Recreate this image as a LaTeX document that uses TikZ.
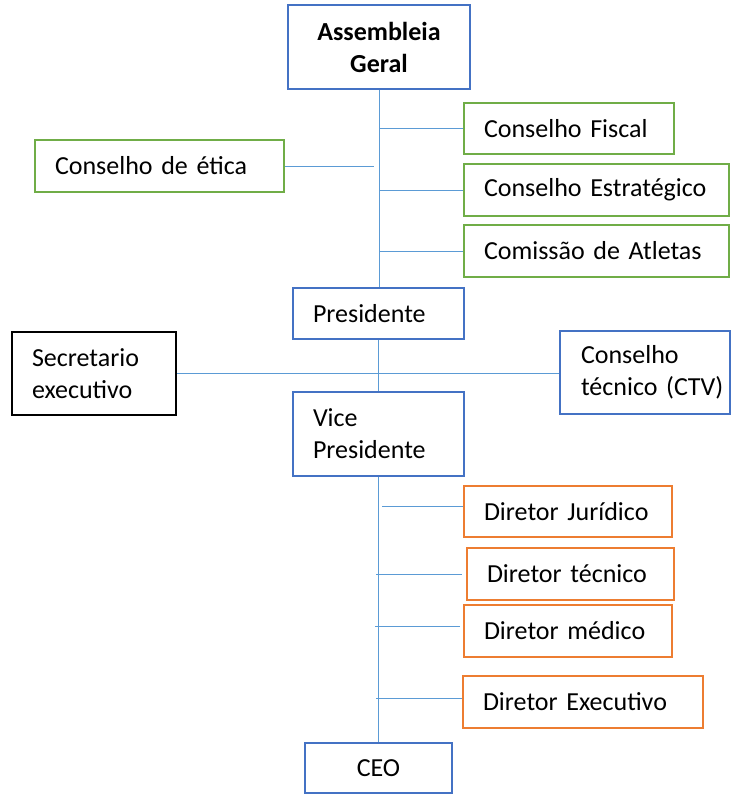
\documentclass[tikz,border=0pt]{standalone}
\usepackage{fontspec}
\setmainfont{Carlito}
\definecolor{bblue}{HTML}{4472C4}
\definecolor{bgreen}{HTML}{70AD47}
\definecolor{borange}{HTML}{ED7D31}
\definecolor{lblue}{HTML}{5B9BD5}
\begin{document}
\begin{tikzpicture}[x=1pt,y=-1pt,
  box/.style={draw, line width=2pt, inner ysep=0pt, anchor=center,
    font=\fontsize{26}{32}\selectfont},
  lbox/.style={box, inner xsep=20pt, align=left},
  cbox/.style={box, inner xsep=0pt, align=center},
  blueb/.style={draw=bblue},
  greenb/.style={draw=bgreen},
  orangeb/.style={draw=borange},
  blackb/.style={draw=black},
  conn/.style={draw=lblue, line width=1pt}]
\useasboundingbox (0,0) rectangle (732,796);

% main chain
\node[cbox, blueb, minimum width=182pt, minimum height=84pt, font=\fontsize{26}{32}\selectfont\bfseries] (ag) at (379,47) {Assembleia\\Geral};
\node[lbox, blueb, text width=131pt, minimum height=51pt] (pres) at (378.5,313.5) {Presidente};
\node[lbox, blueb, text width=131pt, minimum height=84pt] (vp) at (378.5,434) {Vice\\Presidente};
\node[cbox, blueb, minimum width=147pt, minimum height=50pt] (ceo) at (378.5,768) {CEO};

% councils
\node[lbox, greenb, text width=170pt, minimum height=51pt] (cf) at (569,128.5) {Conselho Fiscal};
\node[lbox, greenb, text width=225pt, minimum height=52pt] (cs) at (596.5,190) {Conselho Estratégico};
\node[lbox, greenb, text width=225pt, minimum height=52pt] (ca) at (596.5,251) {Comissão de Atletas};
\node[lbox, greenb, text width=209pt, minimum height=52pt] (cet) at (159.5,166) {Conselho de ética};

% side nodes
\node[lbox, blackb, text width=124pt, minimum height=83pt] (sec) at (94,373.5) {Secretario\\executivo};
\node[box, blueb, inner xsep=21pt, align=left, text width=128pt, minimum height=83pt] (ct) at (645,372.5) {Conselho\\\mbox{técnico (CTV)}};

% directors
\node[lbox, orangeb, text width=168pt, minimum height=51pt] (dj) at (568,511.5) {Diretor Jurídico};
\node[lbox, orangeb, text width=167pt, minimum height=52pt] (dt) at (570.5,574) {Diretor técnico};
\node[lbox, orangeb, text width=168pt, minimum height=52pt] (dm) at (568,631) {Diretor médico};
\node[lbox, orangeb, text width=200pt, minimum height=52pt] (de) at (583,702) {Diretor Executivo};

% connectors
\draw[conn] (ag.south) -- (ag.south |- pres.north);
\draw[conn] (ag.south |- cf.west) -- (cf.west);
\draw[conn] (ag.south |- cs.west) -- (cs.west);
\draw[conn] (ag.south |- ca.west) -- (ca.west);
\coordinate (cetEnd) at (374,166);
\draw[conn] (cet.east) -- (cetEnd);

\draw[conn] (pres.south) -- (vp.north);
\draw[conn] (sec.east) -- (sec.east -| ct.west);

\draw[conn] (vp.south) -- (vp.south |- ceo.north);
\coordinate (djS) at (382,506);
\coordinate (dtS) at (376,574);
\coordinate (dmS) at (375,626);
\coordinate (deS) at (376,698);
\draw[conn] (djS) -- (djS -| dj.west);
\draw[conn] (dtS) -- ([xshift=-4pt]dtS -| dt.west);
\draw[conn] (dmS) -- ([xshift=-3pt]dmS -| dm.west);
\draw[conn] (deS) -- (deS -| de.west);
\end{tikzpicture}
\end{document}
